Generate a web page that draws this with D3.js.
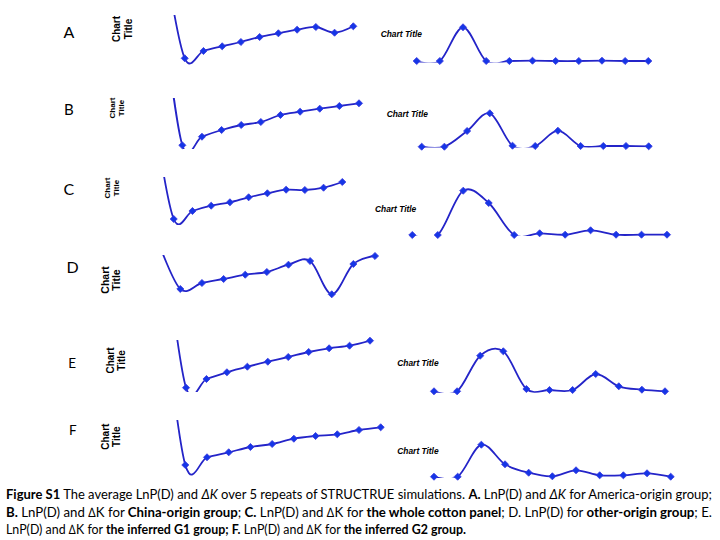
<!DOCTYPE html>
<html>
<head>
<meta charset="utf-8">
<script src="https://cdn.jsdelivr.net/npm/d3@7/dist/d3.min.js"></script>
<style>
  body { margin: 0; background: #fff; }
</style>
</head>
<body>
<script>

// K (number of clusters) on the x axis of every panel
const kValues = [1, 2, 3, 4, 5, 6, 7, 8, 9, 10, 11];

// average LnP(D) for each K (no axis in the figure, relative units)
const lnpA = [-3000, -4866, -4720, -4626, -4540, -4440, -4366, -4294, -4240, -4354, -4226];
const lnpB = [-2240, -4946, -4774, -4640, -4540, -4480, -4340, -4274, -4214, -4160, -4106];
const lnpC = [-2860, -4840, -4680, -4574, -4506, -4406, -4326, -4254, -4260, -4214, -4100];
const lnpD = [-3760, -4680, -4560, -4480, -4394, -4340, -4194, -4120, -4786, -4180, -4020];
const lnpE = [-2200, -4954, -4780, -4646, -4534, -4434, -4340, -4240, -4166, -4114, -4014];
const lnpF = [-1800, -4900, -4746, -4646, -4540, -4480, -4374, -4320, -4286, -4200, -4146];

// delta K for each K
const dkA = [0, 0, 168.5, 0, 0, 1.5, 0, 0, 1.5, 0, 0];
const dkB = [0, 0, 78.5, 167, 5, 3.5, 80, 3.5, 3.5, 3.5, 2];
const dkC = [0, 0, 221.5, 160, 0, 8.5, 1.5, 23.5, 1.5, 1.5, 1.5];
const dkE = [0, 0, 178, 200, 11.5, 6.5, 6.5, 86.5, 25, 8, 0];
const dkF = [0, 0, 160, 62, 20, 2, 32, 7, 7, 17, 0];

const rowLetters = ['A', 'B', 'C', 'D', 'E', 'F'];
const chartTitle = 'Chart Title';

// layout of the page
let width = 720,
    height = 540;

let lineColor = '#2424c8',
    markerColor = '#1536e6';

// left panels: LnP(D), right panels: delta K
// x = pixel range of K=1..11, y = [bottom, top] of the plot area
let lnpPanels = [
  {values: lnpA, x: [166, 353.3], y: [65, 15], domain: [-5000, -4000], title: {x: 120, y: 29, dx: 11.5, size: 10}},
  {values: lnpB, x: [162.7, 359], y: [149, 98], domain: [-5020, -4000], title: {x: 114.5, y: 108, dx: 9, size: 8}},
  {values: lnpC, x: [155, 342.3], y: [225, 177], domain: [-4960, -4000], title: {x: 110, y: 188, dx: 9, size: 8}},
  {values: lnpD, x: [158.7, 375], y: [302, 255], domain: [-4940, -4000], title: {x: 108.5, y: 280, dx: 11.5, size: 10.5}},
  {values: lnpE, x: [165.6, 370], y: [392, 340], domain: [-5040, -4000], title: {x: 114, y: 360.5, dx: 11, size: 10}},
  {values: lnpF, x: [163.6, 380.7], y: [478, 420], domain: [-5160, -4000], title: {x: 109, y: 436.7, dx: 11, size: 10}}
];

let dkPanels = [
  {values: dkA, x: [416.7, 648.3], y: [62.5, 20], domain: [-7.5, 205], title: {x: 380.7, y: 37}},
  {values: dkB, x: [421.7, 648.7], y: [147.5, 105], domain: [-4, 208.5], title: {x: 386.7, y: 116.5}},
  {values: dkC, x: [412.3, 667], y: [236, 185], domain: [-5, 250], title: {x: 375, y: 212}},
  {values: dkE, x: [434, 665], y: [392.8, 345], domain: [-7.5, 231.5], title: {x: 397.3, y: 366}},
  {values: dkF, x: [434, 670.7], y: [478.1, 440], domain: [-7, 183.5], title: {x: 397.3, y: 454}}
];

let letterPos = [
  {x: 63.5, y: 38.3, size: 16},
  {x: 64, y: 115, size: 15},
  {x: 63.5, y: 195, size: 16},
  {x: 66.5, y: 273.3, size: 16},
  {x: 68.3, y: 368, size: 13.5},
  {x: 69, y: 435, size: 13.5}
];


let svg = d3.select('body').append('svg')
    .attr('width', width)
    .attr('height', height)
    .style('display', 'block');

svg.append('rect')
    .attr('width', width)
    .attr('height', height)
    .attr('fill', '#fff');

let defs = svg.append('defs');

let diamond = d3.symbol(d3.symbolSquare, 25);


// draws one smoothed line with diamond markers, line clipped to the plot area
function drawSeries(panel, id) {

  let xScale = d3.scaleLinear()
      .domain([kValues[0], kValues[kValues.length - 1]])
      .range(panel.x);

  let yScale = d3.scaleLinear()
      .domain(panel.domain)
      .range(panel.y);

  let data = kValues.map((k, i) => ({k: k, v: panel.values[i]}));

  defs.append('clipPath')
      .attr('id', id)
    .append('rect')
      .attr('x', panel.x[0] - 12)
      .attr('y', panel.y[1])
      .attr('width', panel.x[1] - panel.x[0] + 24)
      .attr('height', panel.y[0] - panel.y[1]);

  let g = svg.append('g');

  let line = d3.line()
      .x(d => xScale(d.k))
      .y(d => yScale(d.v))
      .curve(d3.curveCardinal.tension(0));

  g.append('path')
      .datum(data)
      .attr('clip-path', `url(#${id})`)
      .attr('d', line)
      .attr('fill', 'none')
      .attr('stroke', lineColor)
      .attr('stroke-width', 1.8);

  // markers outside the value range are not shown
  let shown = data.filter(d => d.v >= panel.domain[0] && d.v <= panel.domain[1]);

  g.selectAll('path.marker')
      .data(shown)
      .enter().append('path')
      .attr('class', 'marker')
      .attr('d', diamond)
      .attr('transform', d => `translate(${xScale(d.k)},${yScale(d.v)}) rotate(45)`)
      .attr('fill', markerColor)
      .attr('stroke', '#3a3ae0')
      .attr('stroke-width', 0.8);
}


lnpPanels.forEach((p, i) => {
  drawSeries(p, 'clip-lnp-' + i);

  // vertical "Chart Title" in two lines
  let t = svg.append('text')
      .attr('transform', `translate(${p.title.x},${p.title.y}) rotate(-90)`)
      .attr('text-anchor', 'middle')
      .attr('font-family', 'Liberation Sans, Arial, sans-serif')
      .attr('font-weight', 'bold')
      .attr('font-size', p.title.size + 'px')
      .attr('fill', '#000');

  t.append('tspan').attr('x', 0).attr('y', 0).text('Chart');
  t.append('tspan').attr('x', 0).attr('y', p.title.dx).text('Title');
});

dkPanels.forEach((p, i) => {
  drawSeries(p, 'clip-dk-' + i);

  svg.append('text')
      .attr('x', p.title.x)
      .attr('y', p.title.y)
      .attr('font-family', 'Liberation Sans, Arial, sans-serif')
      .attr('font-weight', 'bold')
      .attr('font-style', 'italic')
      .attr('font-size', '8.4px')
      .attr('fill', '#000')
      .text(chartTitle);
});


// row letters
svg.selectAll('text.letter')
    .data(rowLetters)
    .enter().append('text')
    .attr('class', 'letter')
    .attr('x', (d, i) => letterPos[i].x)
    .attr('y', (d, i) => letterPos[i].y)
    .attr('font-family', 'Lato, Open Sans, sans-serif')
    .attr('font-size', (d, i) => letterPos[i].size + 'px')
    .attr('fill', '#000')
    .text(d => d);


// caption: each line is a list of [text, bold, italic]
const captionLines = [
  [['Figure S1', 1, 0], [' The average LnP(D) and ', 0, 0], ['\u0394K', 0, 1], [' over 5 repeats of STRUCTRUE simulations. ', 0, 0],
   ['A.', 1, 0], [' LnP(D) and ', 0, 0], ['\u0394K', 0, 1], [' for America-origin group;', 0, 0]],
  [['B.', 1, 0], [' LnP(D) and \u2206K for ', 0, 0], ['China-origin group', 1, 0], ['; ', 0, 0], ['C.', 1, 0],
   [' LnP(D) and \u2206K for ', 0, 0], ['the whole cotton panel', 1, 0], ['; D. LnP(D) for ', 0, 0],
   ['other-origin group', 1, 0], ['; E.', 0, 0]],
  [['LnP(D) and \u2206K for ', 0, 0], ['the inferred G1 group; F.', 1, 0], [' LnP(D) and \u2206K for ', 0, 0],
   ['the inferred G2 group.', 1, 0]]
];

let captionY = [499, 516.5, 534];
let captionLength = [706, 706, 460];

captionLines.forEach((parts, i) => {
  let t = svg.append('text')
      .attr('x', 6)
      .attr('y', captionY[i])
      .attr('font-family', 'Lato, Open Sans, sans-serif')
      .attr('font-size', '13px')
      .attr('fill', '#000')
      .attr('textLength', captionLength[i])
      .attr('lengthAdjust', 'spacingAndGlyphs')
      .style('white-space', 'pre');

  parts.forEach(p => {
    t.append('tspan')
        .attr('font-weight', p[1] ? 'bold' : 'normal')
        .attr('font-style', p[2] ? 'italic' : 'normal')
        .text(p[0]);
  });
});

</script>
</body>
</html>
